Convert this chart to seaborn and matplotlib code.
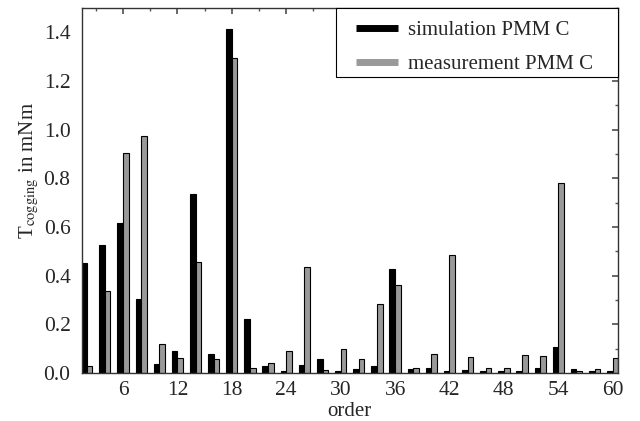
import matplotlib
matplotlib.use("Agg")
import matplotlib.pyplot as plt
from matplotlib.lines import Line2D
from matplotlib.patches import Rectangle
from matplotlib.ticker import MultipleLocator
import seaborn as sns
import pandas as pd

orders = list(range(2, 61, 2))
simulation = [0.454, 0.528, 0.616, 0.304, 0.036, 0.091, 0.736, 0.077, 1.414, 0.221,
              0.028, 0.008, 0.032, 0.059, 0.008, 0.017, 0.029, 0.428, 0.015, 0.021,
              0.008, 0.011, 0.008, 0.010, 0.010, 0.022, 0.105, 0.015, 0.008, 0.008]
measurement = [0.028, 0.337, 0.905, 0.972, 0.118, 0.062, 0.458, 0.059, 1.296, 0.021,
               0.043, 0.092, 0.435, 0.014, 0.098, 0.059, 0.283, 0.361, 0.022, 0.080,
               0.483, 0.065, 0.022, 0.022, 0.072, 0.068, 0.779, 0.007, 0.015, 0.061]
series_names = ["simulation PMM C", "measurement PMM C"]
xticks = [6, 12, 18, 24, 30, 36, 42, 48, 54, 60]
yticks = [0.0, 0.2, 0.4, 0.6, 0.8, 1.0, 1.2, 1.4]

df = pd.DataFrame({
    "order": orders * 2,
    "value": simulation + measurement,
    "series": [series_names[0]] * len(orders) + [series_names[1]] * len(orders),
})

sns.set_theme(style="white")
plt.rcParams["font.family"] = ["Liberation Serif", "DejaVu Serif"]
plt.rcParams["mathtext.fontset"] = "stix"

fig = plt.figure(figsize=(6.4, 4.21), dpi=100)
ax = fig.add_axes([0.1277, 0.114, 0.8375, 0.867])

colors = {series_names[0]: "#000000", series_names[1]: "#999999"}
sns.barplot(data=df, x="order", y="value", hue="series", palette=colors,
            native_scale=True, width=0.62, dodge=True, edgecolor="black",
            linewidth=0.8, ax=ax, legend=False)

ax.set_xlim(1.45, 60.55)
ax.set_ylim(0, 1.5)
ax.set_xticks(xticks)
ax.xaxis.set_minor_locator(MultipleLocator(3))
ax.set_yticks(yticks)
ax.set_yticklabels([f"{v:.1f}" for v in yticks])
ax.yaxis.set_minor_locator(MultipleLocator(0.1))
ax.tick_params(axis="both", which="both", direction="in", top=True, right=True,
               labelsize=15.5, color="#555555")
ax.tick_params(axis="y", which="major", pad=8)
ax.tick_params(axis="x", which="major", pad=6)
ax.tick_params(which="major", length=4)
ax.tick_params(which="minor", length=2)
for s in ax.spines.values():
    s.set_color("#333333")
    s.set_linewidth(1.0)

ax.set_xlabel("order", fontsize=15, labelpad=1)
ax.set_ylabel(r"T$_{\mathrm{cogging}}$ in mNm", fontsize=15)
ax.yaxis.set_label_coords(-0.076, 0.556)

# legend frame
ax.add_patch(Rectangle((0.4744, 0.811), 0.5256, 0.189, transform=ax.transAxes,
                       facecolor="white", edgecolor="black", linewidth=0.8,
                       zorder=5, clip_on=False))
handles = [Line2D([0], [0], color="#000000", lw=5, solid_capstyle="butt"),
           Line2D([0], [0], color="#999999", lw=5, solid_capstyle="butt")]
leg = ax.legend(handles, series_names, loc="upper left",
                bbox_to_anchor=(0.5118, 0.9655), fontsize=15,
                frameon=False, borderaxespad=0, borderpad=0,
                handlelength=2.0, labelspacing=0.7, handletextpad=0.5)
leg.set_zorder(6)

fig.savefig("out.png", dpi=100)
